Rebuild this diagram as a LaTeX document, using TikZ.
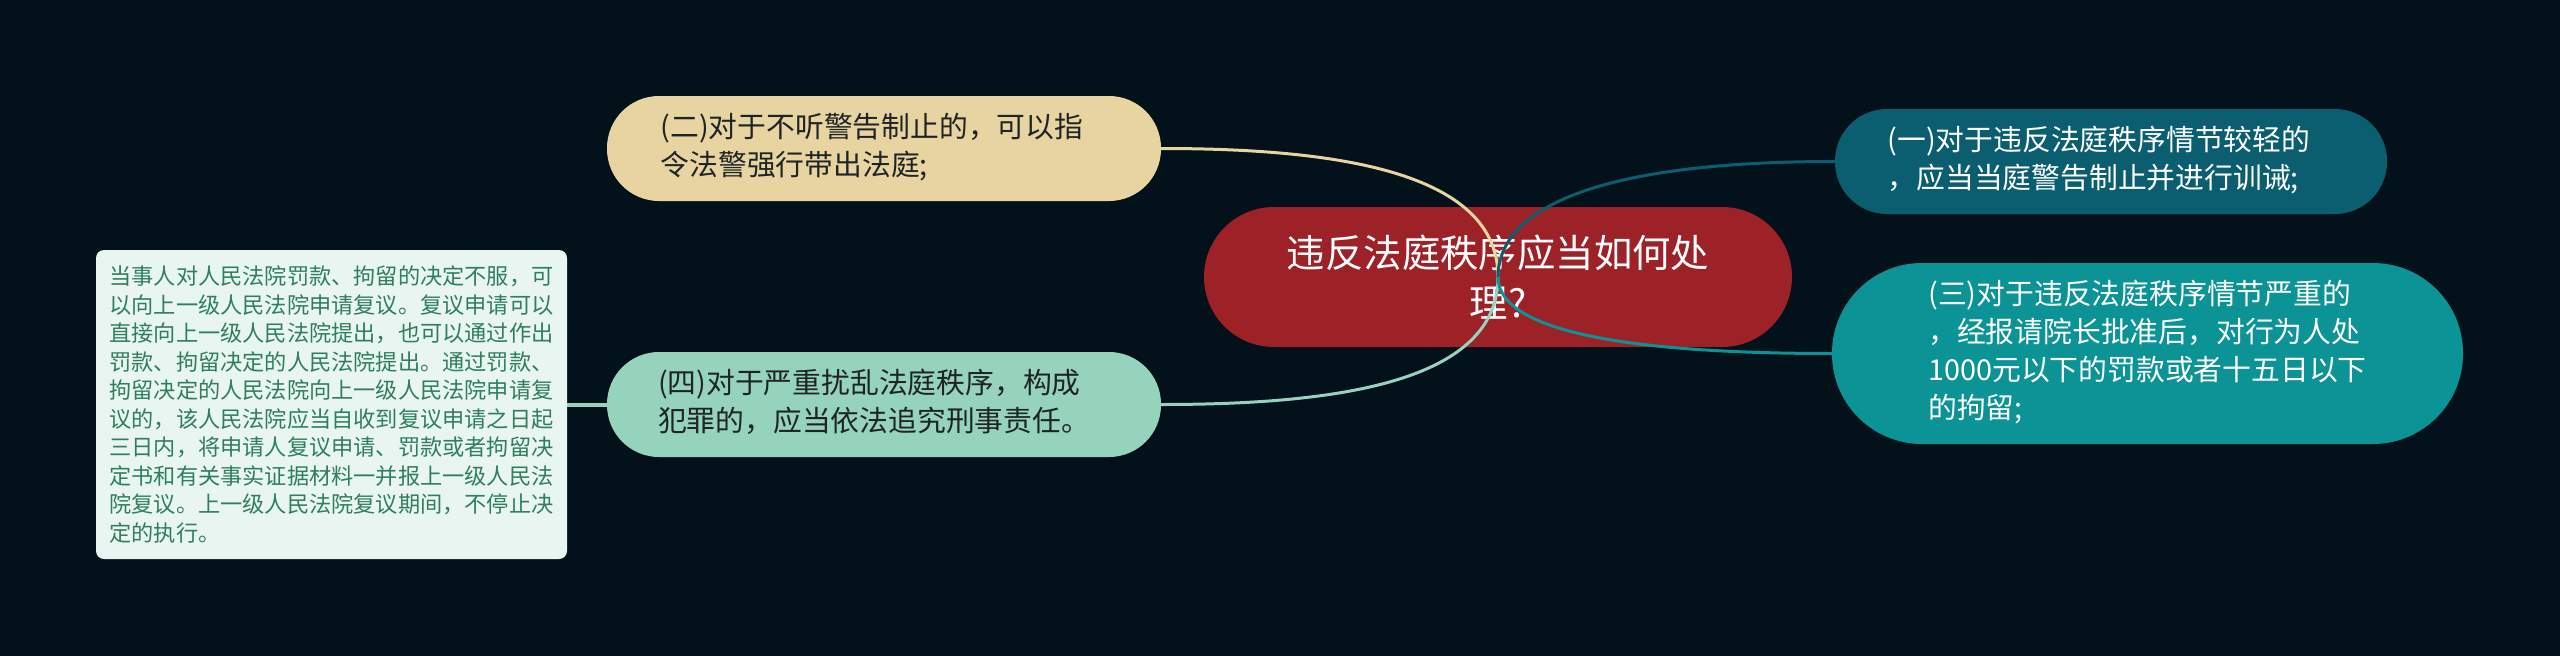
\documentclass[tikz,border=0pt]{standalone}
\usepackage{fontspec}
\newfontfamily\cjk{Noto Sans CJK SC}
\usetikzlibrary{calc}
\definecolor{bg}{HTML}{03111A}
\definecolor{cC}{HTML}{9C2228}
\definecolor{cB1}{HTML}{0B5E70}
\definecolor{cB2}{HTML}{E8D4A0}
\definecolor{cB3}{HTML}{0B9396}
\definecolor{cB4}{HTML}{95D3BD}
\definecolor{noteBg}{HTML}{E8F5F1}
\definecolor{noteText}{HTML}{2F7F5F}
\definecolor{darkText}{HTML}{1E2426}
\begin{document}
\begin{tikzpicture}[x=1pt,y=-1pt,
  branch/.style={inner sep=0pt, font=\cjk\fontsize{28.8}{38}\selectfont},
  link/.style={line width=3pt}]
\fill[bg] (0,0) rectangle (2560,656);
\useasboundingbox (0,0) rectangle (2560,656);

\node[fill=cC, text=white, rounded corners=70pt, inner sep=0pt, minimum width=588pt, minimum height=140pt, align=center, font=\cjk\fontsize{38.4}{50}\selectfont] (c) at (1498,277) {违反法庭秩序应当如何处\\理?};

\node[branch, fill=cB2, text=darkText, rounded corners=52pt, minimum width=554pt, minimum height=105pt] (b2) at (884,148.5) {\kern-24pt\begin{tabular}{@{}l@{}}(二)对于不听警告制止的，可以指\\令法警强行带出法庭;\end{tabular}};
\node[branch, fill=cB4, text=darkText, rounded corners=52pt, minimum width=554pt, minimum height=105pt] (b4) at (884,404.5) {\kern-20pt\begin{tabular}{@{}l@{}}(四)对于严重扰乱法庭秩序，构成\\犯罪的，应当依法追究刑事责任。\end{tabular}};
\node[branch, fill=cB1, text=white, rounded corners=52pt, minimum width=552pt, minimum height=105pt] (b1) at (2111,161.5) {\kern-24pt\begin{tabular}{@{}l@{}}(一)对于违反法庭秩序情节较轻的\\，应当当庭警告制止并进行训诫;\end{tabular}};
\node[branch, fill=cB3, text=white, rounded corners=90pt, minimum width=631pt, minimum height=181pt] (b3) at (2147.5,353.5) {\begin{tabular}{@{}l@{}}(三)对于违反法庭秩序情节严重的\\，经报请院长批准后，对行为人处\\1000元以下的罚款或者十五日以下\\的拘留;\end{tabular}};

\node[fill=noteBg, text=noteText, rounded corners=8pt, inner sep=0pt, minimum width=471pt, minimum height=309pt, align=left, font=\cjk\fontsize{22.2}{28.5}\selectfont] (n) at (331.5,404.5) {当事人对人民法院罚款、拘留的决定不服，可\\以向上一级人民法院申请复议。复议申请可以\\直接向上一级人民法院提出，也可以通过作出\\罚款、拘留决定的人民法院提出。通过罚款、\\拘留决定的人民法院向上一级人民法院申请复\\议的，该人民法院应当自收到复议申请之日起\\三日内，将申请人复议申请、罚款或者拘留决\\定书和有关事实证据材料一并报上一级人民法\\院复议。上一级人民法院复议期间，不停止决\\定的执行。};

\draw[link, cB2] (b2.east) .. controls ($(b2.east)+(170,0)$) and ($(c.center)+(0,-107)$) .. (c.center);
\draw[link, cB4] (b4.east) .. controls ($(b4.east)+(170,0)$) and ($(c.center)+(0,107)$) .. (c.center);
\draw[link, cB1] (b1.west) .. controls ($(b1.west)+(-255,0)$) and ($(c.center)+(0,-62)$) .. (c.center);
\draw[link, cB3] (b3.west) .. controls ($(b3.west)+(-252,0)$) and ($(c.center)+(0,43)$) .. (c.center);
\draw[line width=4pt, cB4] (b4.west) -- (n.east);
\end{tikzpicture}
\end{document}
